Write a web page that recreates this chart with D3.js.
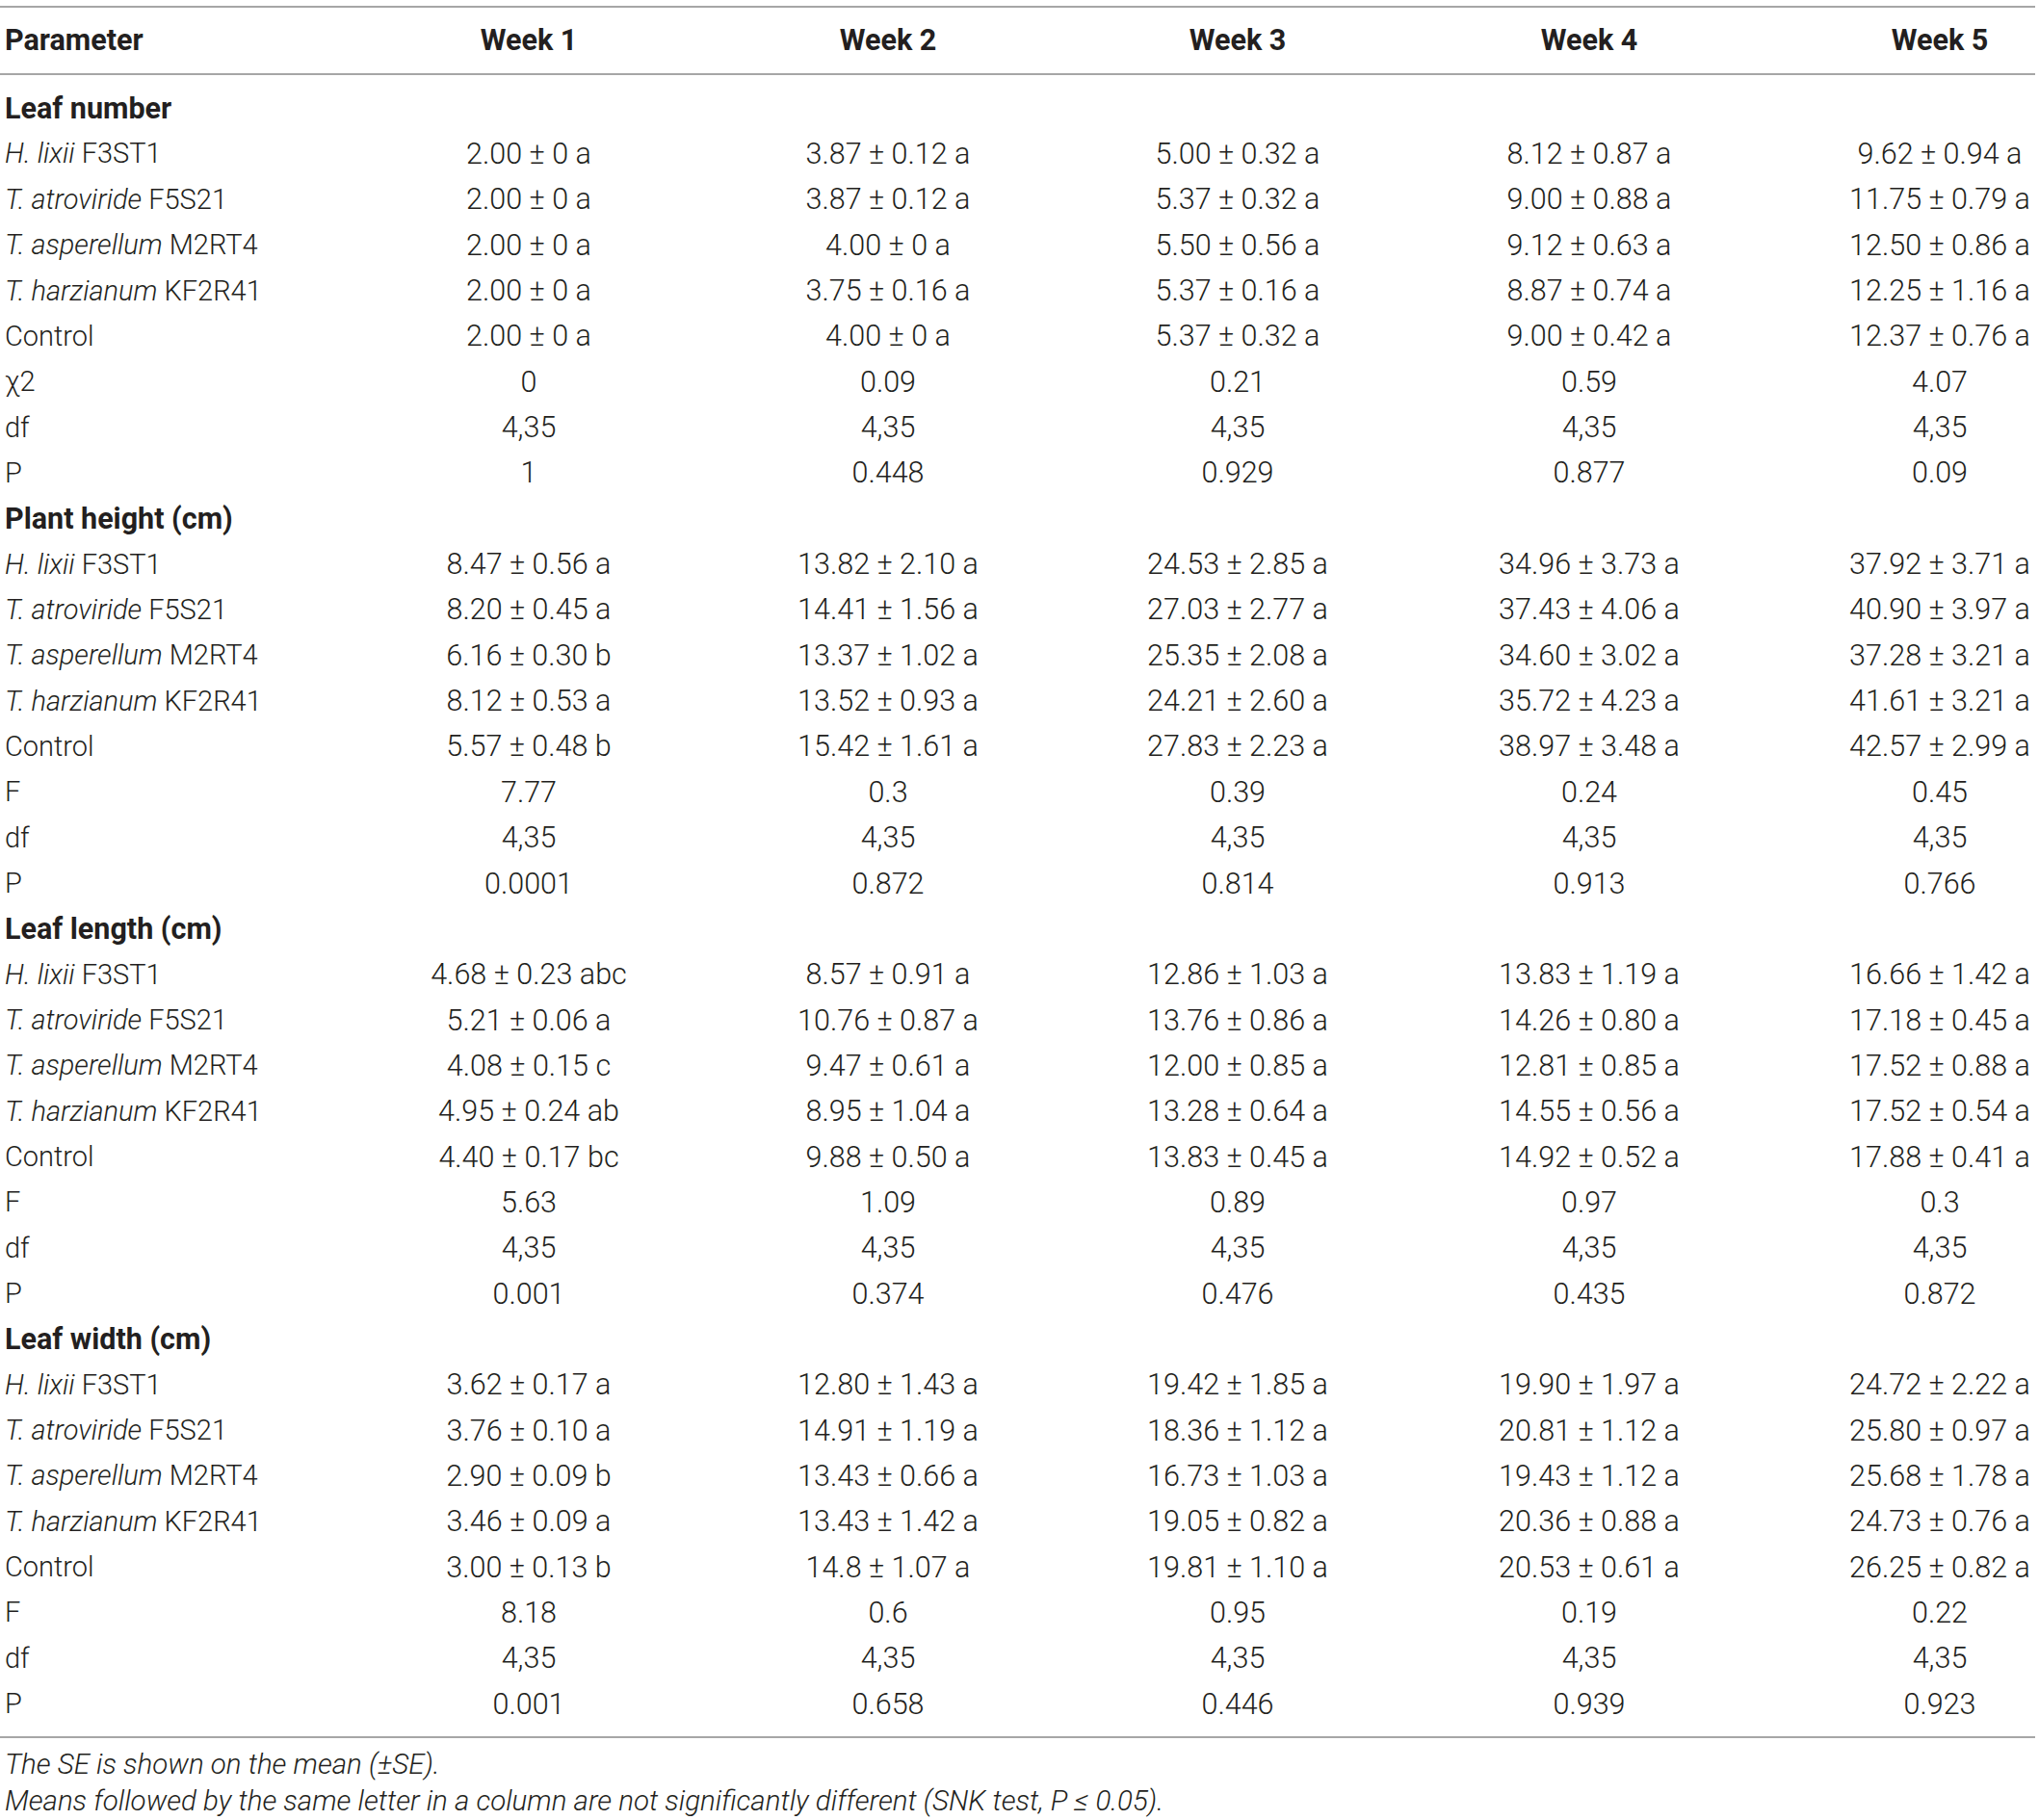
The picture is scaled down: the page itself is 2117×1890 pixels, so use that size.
<!DOCTYPE html>
<html>
<head>
<meta charset="utf-8">
<script src="https://cdn.jsdelivr.net/npm/d3@7"></script>
<style>
  html, body { margin: 0; padding: 0; background: #fff; }
  svg { display: block; }
</style>
</head>
<body>
<svg id="chart" width="2117" height="1890"></svg>
<script>
// ---------- DATA ----------
const weeks = ["Week 1", "Week 2", "Week 3", "Week 4", "Week 5"];
const treatmentGenus = ["H. lixii", "T. atroviride", "T. asperellum", "T. harzianum", null];
const treatmentStrain = ["F3ST1", "F5S21", "M2RT4", "KF2R41", "Control"];
const parameters = ["Leaf number", "Plant height (cm)", "Leaf length (cm)", "Leaf width (cm)"];
const statNames = [["χ2", "df", "P"], ["F", "df", "P"], ["F", "df", "P"], ["F", "df", "P"]];

// Leaf number
const leafNumberMean = [
  ["2.00", "3.87", "5.00", "8.12", "9.62"],
  ["2.00", "3.87", "5.37", "9.00", "11.75"],
  ["2.00", "4.00", "5.50", "9.12", "12.50"],
  ["2.00", "3.75", "5.37", "8.87", "12.25"],
  ["2.00", "4.00", "5.37", "9.00", "12.37"]
];
const leafNumberSE = [
  ["0", "0.12", "0.32", "0.87", "0.94"],
  ["0", "0.12", "0.32", "0.88", "0.79"],
  ["0", "0", "0.56", "0.63", "0.86"],
  ["0", "0.16", "0.16", "0.74", "1.16"],
  ["0", "0", "0.32", "0.42", "0.76"]
];
const leafNumberLetter = [
  ["a", "a", "a", "a", "a"],
  ["a", "a", "a", "a", "a"],
  ["a", "a", "a", "a", "a"],
  ["a", "a", "a", "a", "a"],
  ["a", "a", "a", "a", "a"]
];
const leafNumberStat = ["0", "0.09", "0.21", "0.59", "4.07"];
const leafNumberDf = ["4,35", "4,35", "4,35", "4,35", "4,35"];
const leafNumberP = ["1", "0.448", "0.929", "0.877", "0.09"];

// Plant height
const plantHeightMean = [
  ["8.47", "13.82", "24.53", "34.96", "37.92"],
  ["8.20", "14.41", "27.03", "37.43", "40.90"],
  ["6.16", "13.37", "25.35", "34.60", "37.28"],
  ["8.12", "13.52", "24.21", "35.72", "41.61"],
  ["5.57", "15.42", "27.83", "38.97", "42.57"]
];
const plantHeightSE = [
  ["0.56", "2.10", "2.85", "3.73", "3.71"],
  ["0.45", "1.56", "2.77", "4.06", "3.97"],
  ["0.30", "1.02", "2.08", "3.02", "3.21"],
  ["0.53", "0.93", "2.60", "4.23", "3.21"],
  ["0.48", "1.61", "2.23", "3.48", "2.99"]
];
const plantHeightLetter = [
  ["a", "a", "a", "a", "a"],
  ["a", "a", "a", "a", "a"],
  ["b", "a", "a", "a", "a"],
  ["a", "a", "a", "a", "a"],
  ["b", "a", "a", "a", "a"]
];
const plantHeightStat = ["7.77", "0.3", "0.39", "0.24", "0.45"];
const plantHeightDf = ["4,35", "4,35", "4,35", "4,35", "4,35"];
const plantHeightP = ["0.0001", "0.872", "0.814", "0.913", "0.766"];

// Leaf length
const leafLengthMean = [
  ["4.68", "8.57", "12.86", "13.83", "16.66"],
  ["5.21", "10.76", "13.76", "14.26", "17.18"],
  ["4.08", "9.47", "12.00", "12.81", "17.52"],
  ["4.95", "8.95", "13.28", "14.55", "17.52"],
  ["4.40", "9.88", "13.83", "14.92", "17.88"]
];
const leafLengthSE = [
  ["0.23", "0.91", "1.03", "1.19", "1.42"],
  ["0.06", "0.87", "0.86", "0.80", "0.45"],
  ["0.15", "0.61", "0.85", "0.85", "0.88"],
  ["0.24", "1.04", "0.64", "0.56", "0.54"],
  ["0.17", "0.50", "0.45", "0.52", "0.41"]
];
const leafLengthLetter = [
  ["abc", "a", "a", "a", "a"],
  ["a", "a", "a", "a", "a"],
  ["c", "a", "a", "a", "a"],
  ["ab", "a", "a", "a", "a"],
  ["bc", "a", "a", "a", "a"]
];
const leafLengthStat = ["5.63", "1.09", "0.89", "0.97", "0.3"];
const leafLengthDf = ["4,35", "4,35", "4,35", "4,35", "4,35"];
const leafLengthP = ["0.001", "0.374", "0.476", "0.435", "0.872"];

// Leaf width
const leafWidthMean = [
  ["3.62", "12.80", "19.42", "19.90", "24.72"],
  ["3.76", "14.91", "18.36", "20.81", "25.80"],
  ["2.90", "13.43", "16.73", "19.43", "25.68"],
  ["3.46", "13.43", "19.05", "20.36", "24.73"],
  ["3.00", "14.8", "19.81", "20.53", "26.25"]
];
const leafWidthSE = [
  ["0.17", "1.43", "1.85", "1.97", "2.22"],
  ["0.10", "1.19", "1.12", "1.12", "0.97"],
  ["0.09", "0.66", "1.03", "1.12", "1.78"],
  ["0.09", "1.42", "0.82", "0.88", "0.76"],
  ["0.13", "1.07", "1.10", "0.61", "0.82"]
];
const leafWidthLetter = [
  ["a", "a", "a", "a", "a"],
  ["a", "a", "a", "a", "a"],
  ["b", "a", "a", "a", "a"],
  ["a", "a", "a", "a", "a"],
  ["b", "a", "a", "a", "a"]
];
const leafWidthStat = ["8.18", "0.6", "0.95", "0.19", "0.22"];
const leafWidthDf = ["4,35", "4,35", "4,35", "4,35", "4,35"];
const leafWidthP = ["0.001", "0.658", "0.446", "0.939", "0.923"];

const footnotes = [
  "The SE is shown on the mean (±SE).",
  "Means followed by the same letter in a column are not significantly different (SNK test, P ≤ 0.05)."
];

// ---------- BUILD ROWS ----------
const blocks = [
  { mean: leafNumberMean, se: leafNumberSE, letter: leafNumberLetter, stat: leafNumberStat, df: leafNumberDf, p: leafNumberP },
  { mean: plantHeightMean, se: plantHeightSE, letter: plantHeightLetter, stat: plantHeightStat, df: plantHeightDf, p: plantHeightP },
  { mean: leafLengthMean, se: leafLengthSE, letter: leafLengthLetter, stat: leafLengthStat, df: leafLengthDf, p: leafLengthP },
  { mean: leafWidthMean, se: leafWidthSE, letter: leafWidthLetter, stat: leafWidthStat, df: leafWidthDf, p: leafWidthP }
];

const rows = [];
blocks.forEach((b, bi) => {
  rows.push({ type: "section", label: parameters[bi] });
  treatmentStrain.forEach((s, ti) => {
    rows.push({
      type: "treatment", genus: treatmentGenus[ti], strain: s,
      cells: weeks.map((w, wi) => `${b.mean[ti][wi]} ± ${b.se[ti][wi]} ${b.letter[ti][wi]}`)
    });
  });
  rows.push({ type: "stat", label: statNames[bi][0], cells: b.stat });
  rows.push({ type: "stat", label: statNames[bi][1], cells: b.df });
  rows.push({ type: "stat", label: statNames[bi][2], cells: b.p });
});

// ---------- DRAW ----------
const svg = d3.select("#chart");
const textColor = "#231f20";
const lineColor = "#a6a6a6";
const fontFamily = "Roboto, 'Liberation Sans', sans-serif";
const fsValue = 30.5;
const fsLabel = 29;
const fsBold = 30.5;

// column layout (ordinal scale of column centres)
const x = d3.scaleOrdinal().domain(weeks).range([549, 922, 1285, 1650, 2014]);
const y = d3.scalePoint().domain(d3.range(rows.length)).range([112, 1769]);
const labelX = 5;

// horizontal rules
const rules = [7, 77, 1804];
svg.selectAll("line.rule").data(rules).enter().append("line")
  .attr("class", "rule")
  .attr("x1", 0).attr("x2", 2113)
  .attr("y1", d => d).attr("y2", d => d)
  .attr("stroke", lineColor).attr("stroke-width", 2);

const g = svg.append("g")
  .attr("font-family", fontFamily)
  .attr("fill", textColor);

// header
g.append("text").attr("x", labelX).attr("y", 41).attr("dy", "0.35em")
  .attr("font-size", fsBold).attr("font-weight", 700).text("Parameter");
g.selectAll("text.week").data(weeks).enter().append("text")
  .attr("class", "week")
  .attr("x", d => x(d)).attr("y", 41).attr("dy", "0.35em")
  .attr("font-size", fsBold)
  .attr("text-anchor", "middle").attr("font-weight", 700).text(d => d);

// body rows
rows.forEach((r, i) => {
  const yy = y(i);
  if (r.type === "section") {
    g.append("text").attr("x", labelX).attr("y", yy).attr("dy", "0.35em")
      .attr("font-size", fsBold).attr("font-weight", 700).text(r.label);
    return;
  }
  const lab = g.append("text").attr("x", labelX).attr("y", yy).attr("dy", "0.35em")
    .attr("font-size", fsLabel).attr("font-weight", 300);
  if (r.type === "treatment" && r.genus) {
    lab.append("tspan").attr("font-style", "italic").text(r.genus);
    lab.append("tspan").text(" " + r.strain);
  } else if (r.type === "treatment") {
    lab.text(r.strain);
  } else {
    lab.text(r.label);
  }
  g.selectAll(null).data(r.cells).enter().append("text")
    .attr("x", (d, wi) => x(weeks[wi])).attr("y", yy).attr("dy", "0.35em")
    .attr("font-size", fsValue)
    .attr("text-anchor", "middle").attr("font-weight", 300)
    .text(d => d);
});

// footnotes
g.selectAll("text.foot").data(footnotes).enter().append("text")
  .attr("class", "foot")
  .attr("x", labelX).attr("y", (d, i) => [1832, 1870][i]).attr("dy", "0.35em")
  .attr("font-size", 29.5)
  .attr("font-style", "italic").attr("font-weight", 300)
  .text(d => d);
</script>
</body>
</html>
